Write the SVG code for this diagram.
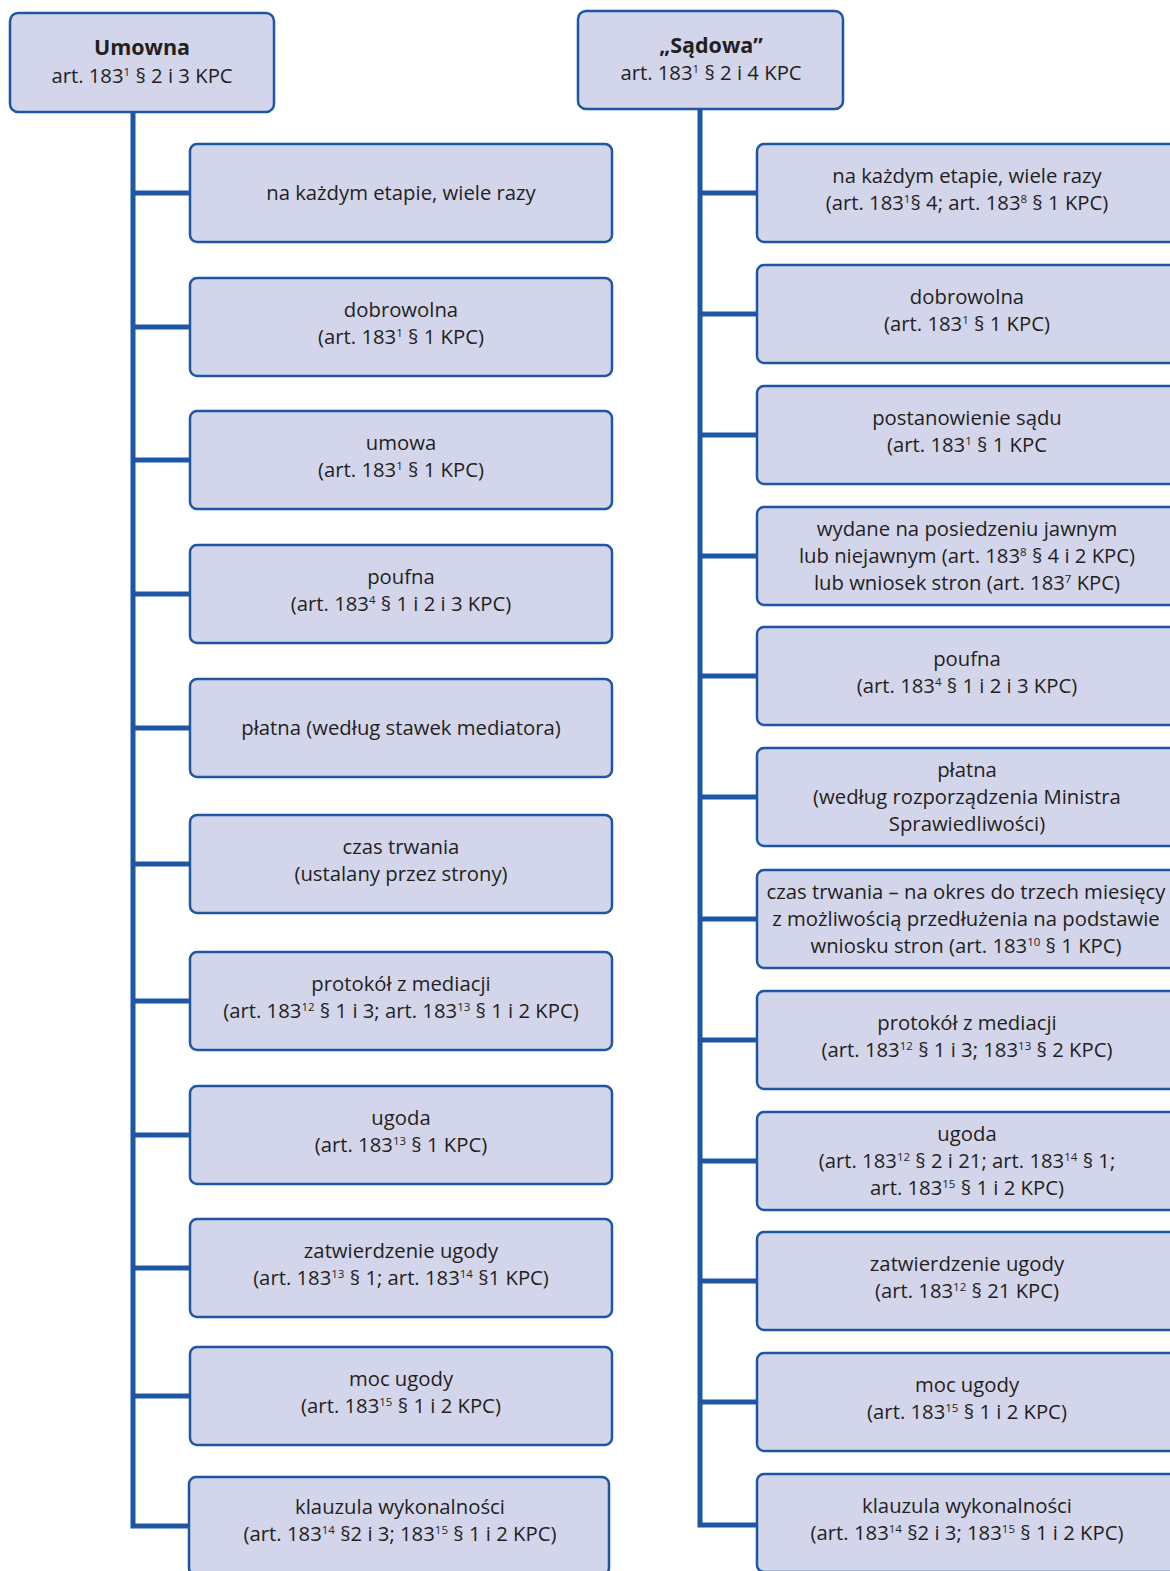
<svg xmlns="http://www.w3.org/2000/svg" width="1170" height="1571" viewBox="0 0 1170 1571">
<style>
.box{fill:#d3d5eb;stroke:#1d56a5;stroke-width:2.5}
.ln{fill:none;stroke:#1d56a5;stroke-width:5;stroke-linejoin:miter;stroke-linecap:butt}
.t{font-family:"Open Sans","Noto Sans","Liberation Sans",sans-serif;font-size:20.3px;fill:#231f20;text-anchor:middle}
.b{font-weight:bold;font-size:21.5px}
.s{font-size:11.5px}
</style>
<rect width="1170" height="1571" fill="#ffffff"/>
<g id="connectors">
<path class="ln" d="M133 112V1526H190"/>
<path class="ln" d="M133 193H190M133 327H190M133 460H190M133 594H190M133 728H190M133 864H190M133 1001H190M133 1135H190M133 1268H190M133 1396H190"/>
<path class="ln" d="M700 110V1525H757"/>
<path class="ln" d="M700 193H757M700 314H757M700 435H757M700 556H757M700 676H757M700 797H757M700 919H757M700 1040H757M700 1161H757M700 1281H757M700 1402H757"/>
</g>
<g id="h-umowna">
<rect class="box" x="10" y="13" width="264" height="99" rx="8"/>
<text class="t b" x="142" y="55">Umowna</text>
<text class="t" x="142" y="83">art. 183<tspan class="s" dy="-7.5">1</tspan><tspan dy="7.5"> § 2 i 3 KPC</tspan></text>
</g>
<g id="h-sadowa">
<rect class="box" x="578" y="11" width="265" height="98" rx="8"/>
<text class="t b" x="711" y="53">„Sądowa”</text>
<text class="t" x="711" y="80">art. 183<tspan class="s" dy="-7.5">1</tspan><tspan dy="7.5"> § 2 i 4 KPC</tspan></text>
</g>
<g id="l1"><rect class="box" x="190" y="144" width="422" height="98" rx="7"/>
<text class="t" x="401" y="200">na każdym etapie, wiele razy</text></g>
<g id="l2"><rect class="box" x="190" y="278" width="422" height="98" rx="7"/>
<text class="t" x="401" y="317">dobrowolna</text>
<text class="t" x="401" y="344">(art. 183<tspan class="s" dy="-7.5">1</tspan><tspan dy="7.5"> § 1 KPC)</tspan></text></g>
<g id="l3"><rect class="box" x="190" y="411" width="422" height="98" rx="7"/>
<text class="t" x="401" y="450">umowa</text>
<text class="t" x="401" y="477">(art. 183<tspan class="s" dy="-7.5">1</tspan><tspan dy="7.5"> § 1 KPC)</tspan></text></g>
<g id="l4"><rect class="box" x="190" y="545" width="422" height="98" rx="7"/>
<text class="t" x="401" y="584">poufna</text>
<text class="t" x="401" y="611">(art. 183<tspan class="s" dy="-7.5">4</tspan><tspan dy="7.5"> § 1 i 2 i 3 KPC)</tspan></text></g>
<g id="l5"><rect class="box" x="190" y="679" width="422" height="98" rx="7"/>
<text class="t" x="401" y="735">płatna (według stawek mediatora)</text></g>
<g id="l6"><rect class="box" x="190" y="815" width="422" height="98" rx="7"/>
<text class="t" x="401" y="854">czas trwania</text>
<text class="t" x="401" y="881">(ustalany przez strony)</text></g>
<g id="l7"><rect class="box" x="190" y="952" width="422" height="98" rx="7"/>
<text class="t" x="401" y="991">protokół z mediacji</text>
<text class="t" x="401" y="1018">(art. 183<tspan class="s" dy="-7.5">12</tspan><tspan dy="7.5"> § 1 i 3; art. 183</tspan><tspan class="s" dy="-7.5">13</tspan><tspan dy="7.5"> § 1 i 2 KPC)</tspan></text></g>
<g id="l8"><rect class="box" x="190" y="1086" width="422" height="98" rx="7"/>
<text class="t" x="401" y="1125">ugoda</text>
<text class="t" x="401" y="1152">(art. 183<tspan class="s" dy="-7.5">13</tspan><tspan dy="7.5"> § 1 KPC)</tspan></text></g>
<g id="l9"><rect class="box" x="190" y="1219" width="422" height="98" rx="7"/>
<text class="t" x="401" y="1258">zatwierdzenie ugody</text>
<text class="t" x="401" y="1285">(art. 183<tspan class="s" dy="-7.5">13</tspan><tspan dy="7.5"> § 1; art. 183</tspan><tspan class="s" dy="-7.5">14</tspan><tspan dy="7.5"> §1 KPC)</tspan></text></g>
<g id="l10"><rect class="box" x="190" y="1347" width="422" height="98" rx="7"/>
<text class="t" x="401" y="1386">moc ugody</text>
<text class="t" x="401" y="1413">(art. 183<tspan class="s" dy="-7.5">15</tspan><tspan dy="7.5"> § 1 i 2 KPC)</tspan></text></g>
<g id="l11"><rect class="box" x="189" y="1477" width="420" height="98" rx="7"/>
<text class="t" x="400" y="1514">klauzula wykonalności</text>
<text class="t" x="400" y="1541">(art. 183<tspan class="s" dy="-7.5">14</tspan><tspan dy="7.5"> §2 i 3; 183</tspan><tspan class="s" dy="-7.5">15</tspan><tspan dy="7.5"> § 1 i 2 KPC)</tspan></text></g>
<g id="r1"><rect class="box" x="757" y="144" width="420" height="98" rx="7"/>
<text class="t" x="967" y="183">na każdym etapie, wiele razy</text>
<text class="t" x="967" y="210">(art. 183<tspan class="s" dy="-7.5">1</tspan><tspan dy="7.5">§ 4; art. 183</tspan><tspan class="s" dy="-7.5">8</tspan><tspan dy="7.5"> § 1 KPC)</tspan></text></g>
<g id="r2"><rect class="box" x="757" y="265" width="420" height="98" rx="7"/>
<text class="t" x="967" y="304">dobrowolna</text>
<text class="t" x="967" y="331">(art. 183<tspan class="s" dy="-7.5">1</tspan><tspan dy="7.5"> § 1 KPC)</tspan></text></g>
<g id="r3"><rect class="box" x="757" y="386" width="420" height="98" rx="7"/>
<text class="t" x="967" y="425">postanowienie sądu</text>
<text class="t" x="967" y="452">(art. 183<tspan class="s" dy="-7.5">1</tspan><tspan dy="7.5"> § 1 KPC</tspan></text></g>
<g id="r4"><rect class="box" x="757" y="507" width="420" height="98" rx="7"/>
<text class="t" x="967" y="536">wydane na posiedzeniu jawnym</text>
<text class="t" x="967" y="563">lub niejawnym (art. 183<tspan class="s" dy="-7.5">8</tspan><tspan dy="7.5"> § 4 i 2 KPC)</tspan></text>
<text class="t" x="967" y="590">lub wniosek stron (art. 183<tspan class="s" dy="-7.5">7</tspan><tspan dy="7.5"> KPC)</tspan></text></g>
<g id="r5"><rect class="box" x="757" y="627" width="420" height="98" rx="7"/>
<text class="t" x="967" y="666">poufna</text>
<text class="t" x="967" y="693">(art. 183<tspan class="s" dy="-7.5">4</tspan><tspan dy="7.5"> § 1 i 2 i 3 KPC)</tspan></text></g>
<g id="r6"><rect class="box" x="757" y="748" width="420" height="98" rx="7"/>
<text class="t" x="967" y="777">płatna</text>
<text class="t" x="967" y="804">(według rozporządzenia Ministra</text>
<text class="t" x="967" y="831">Sprawiedliwości)</text></g>
<g id="r7"><rect class="box" x="757" y="870" width="420" height="98" rx="7"/>
<text class="t" x="966" y="899">czas trwania – na okres do trzech miesięcy</text>
<text class="t" x="966" y="926">z możliwością przedłużenia na podstawie</text>
<text class="t" x="966" y="953">wniosku stron (art. 183<tspan class="s" dy="-7.5">10</tspan><tspan dy="7.5"> § 1 KPC)</tspan></text></g>
<g id="r8"><rect class="box" x="757" y="991" width="420" height="98" rx="7"/>
<text class="t" x="967" y="1030">protokół z mediacji</text>
<text class="t" x="967" y="1057">(art. 183<tspan class="s" dy="-7.5">12</tspan><tspan dy="7.5"> § 1 i 3; 183</tspan><tspan class="s" dy="-7.5">13</tspan><tspan dy="7.5"> § 2 KPC)</tspan></text></g>
<g id="r9"><rect class="box" x="757" y="1112" width="420" height="98" rx="7"/>
<text class="t" x="967" y="1141">ugoda</text>
<text class="t" x="967" y="1168">(art. 183<tspan class="s" dy="-7.5">12</tspan><tspan dy="7.5"> § 2 i 21; art. 183</tspan><tspan class="s" dy="-7.5">14</tspan><tspan dy="7.5"> § 1;</tspan></text>
<text class="t" x="967" y="1195">art. 183<tspan class="s" dy="-7.5">15</tspan><tspan dy="7.5"> § 1 i 2 KPC)</tspan></text></g>
<g id="r10"><rect class="box" x="757" y="1232" width="420" height="98" rx="7"/>
<text class="t" x="967" y="1271">zatwierdzenie ugody</text>
<text class="t" x="967" y="1298">(art. 183<tspan class="s" dy="-7.5">12</tspan><tspan dy="7.5"> § 21 KPC)</tspan></text></g>
<g id="r11"><rect class="box" x="757" y="1353" width="420" height="98" rx="7"/>
<text class="t" x="967" y="1392">moc ugody</text>
<text class="t" x="967" y="1419">(art. 183<tspan class="s" dy="-7.5">15</tspan><tspan dy="7.5"> § 1 i 2 KPC)</tspan></text></g>
<g id="r12"><rect class="box" x="757" y="1474" width="420" height="98" rx="7"/>
<text class="t" x="967" y="1513">klauzula wykonalności</text>
<text class="t" x="967" y="1540">(art. 183<tspan class="s" dy="-7.5">14</tspan><tspan dy="7.5"> §2 i 3; 183</tspan><tspan class="s" dy="-7.5">15</tspan><tspan dy="7.5"> § 1 i 2 KPC)</tspan></text></g>
</svg>
